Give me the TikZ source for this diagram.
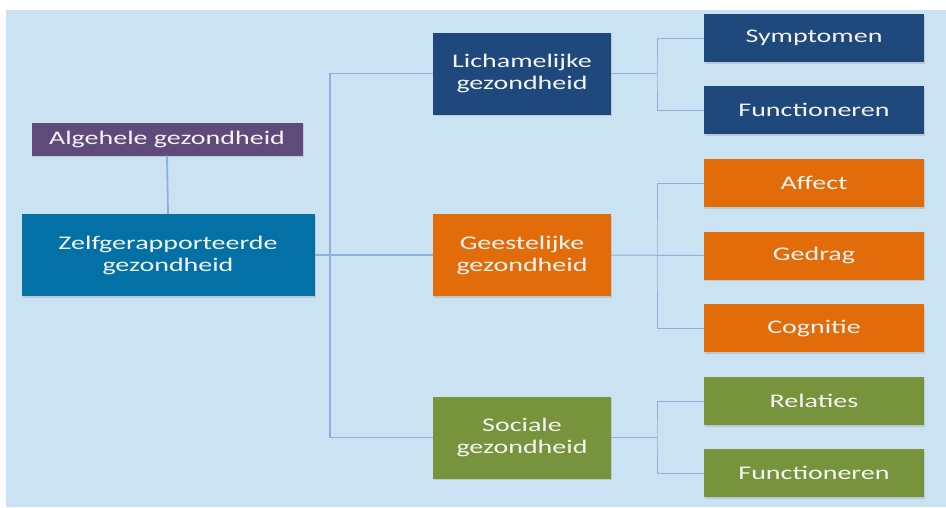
\documentclass[tikz,border=0pt]{standalone}
\usepackage{fontspec}
\setmainfont{Carlito}[FakeStretch=1.45]
\usetikzlibrary{shadows}

\definecolor{bgblue}{RGB}{202,226,241}
\definecolor{lineblue}{RGB}{139,176,222}
\definecolor{darkblue}{RGB}{31,72,124}
\definecolor{selfblue}{RGB}{3,112,166}
\definecolor{lilac}{RGB}{96,74,123}
\definecolor{orangebox}{RGB}{227,108,10}
\definecolor{greenbox}{RGB}{119,147,60}
\definecolor{boxtext}{RGB}{244,244,244}

\tikzset{
  box/.style={rectangle, inner sep=0pt, align=center, text=boxtext,
    font=\fontsize{19.3}{22}\selectfont,
    drop shadow={shadow xshift=1pt, shadow yshift=-1.5pt, opacity=0.25}},
  midbox/.style={box, minimum width=178pt, minimum height=82pt},
  leafbox/.style={box, minimum width=220pt, minimum height=48pt},
  trunk/.style={draw=lineblue, line width=1.8pt},
  twig/.style={draw=lineblue, line width=1pt},
}

\begin{document}
\begin{tikzpicture}[x=1pt,y=1pt,yscale=-1]
\useasboundingbox (0,0) rectangle (946,507);

%Background
\fill[bgblue] (6,10) rectangle (946,507);

%Split points
\coordinate (msplit) at (330,255);
\coordinate (lsplit) at (657,73.5);
\coordinate (gsplit) at (657,255);
\coordinate (ssplit) at (657,437.5);

%Left column
\node[box, fill=lilac, minimum width=271pt, minimum height=33pt] (alg) at (167,139) {Algehele gezondheid};
\node[box, fill=selfblue, minimum width=293pt, minimum height=82pt] (zelf) at (168,255) {Zelfgerapporteerde\\gezondheid};

%Middle column
\node[midbox, fill=darkblue] (licham) at (522,73.5) {Lichamelijke\\gezondheid};
\node[midbox, fill=orangebox] (geest) at (522,255) {Geestelijke\\gezondheid};
\node[midbox, fill=greenbox] (sociaal) at (522,437.5) {Sociale\\gezondheid};

%Right column
\node[leafbox, fill=darkblue] (sympt) at (814,38) {Symptomen};
\node[leafbox, fill=darkblue] (lfunc) at (814,110) {Functioneren};
\node[leafbox, fill=orangebox] (affect) at (814,183) {Affect};
\node[leafbox, fill=orangebox] (gedrag) at (814,255.5) {Gedrag};
\node[leafbox, fill=orangebox] (cogn) at (814,328) {Cognitie};
\node[leafbox, fill=greenbox] (relat) at (814,401) {Relaties};
\node[leafbox, fill=greenbox] (sfunc) at (814,473) {Functioneren};

%Connectors
\draw[trunk] (alg.south) -- (zelf.north);
\draw[trunk] (zelf.east) -- (geest.west);
\draw[trunk] (licham.west) -| (msplit) |- (sociaal.west);

\draw[twig] (licham.east) -- (lsplit);
\draw[twig] (sympt.west) -| (lsplit) |- (lfunc.west);
\draw[twig] (geest.east) -- (gedrag.west);
\draw[twig] (affect.west) -| (gsplit) |- (cogn.west);
\draw[twig] (sociaal.east) -- (ssplit);
\draw[twig] (relat.west) -| (ssplit) |- (sfunc.west);

\end{tikzpicture}
\end{document}
